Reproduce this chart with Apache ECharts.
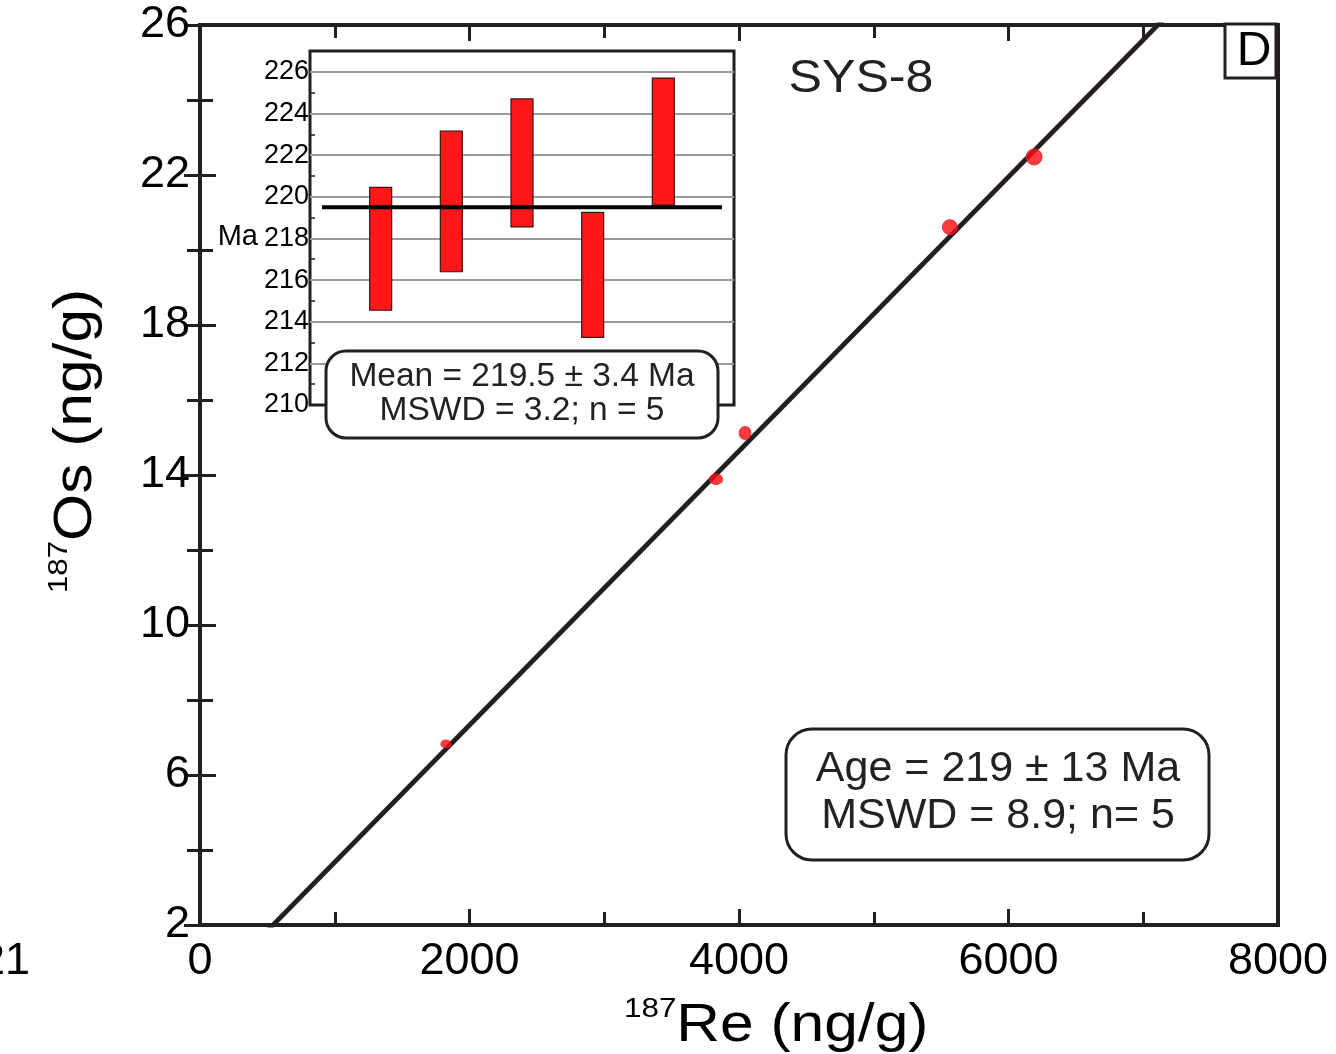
<!DOCTYPE html>
<html><head><meta charset="utf-8">
<script src="https://cdn.jsdelivr.net/npm/echarts@6/dist/echarts.min.js"></script>
<style>html,body{margin:0;padding:0;background:#fff}#c{width:1336px;height:1054px}</style>
</head><body><div id="c"></div>
<script>
// ---- main isochron data (187Re vs 187Os, ng/g) ----
const reValues = [1825, 3830, 4045, 5565, 6190];
const osValues = [6.83, 13.89, 15.12, 20.61, 22.48];
// isochron regression (Age = 219 Ma)
const isochronSlope = 0.003655;
const isochronIntercept = 0.02;
// ---- inset: model ages (Ma) ----
const analysisIndex = [1, 2, 3, 4, 5];
const ageLow  = [214.55, 216.40, 218.55, 213.25, 219.60];
const ageHigh = [220.45, 223.15, 224.70, 219.25, 225.70];
const meanAge = 219.5;
// text
const sampleName = 'SYS-8';
const panelLetter = 'D';
const meanText = ['Mean = 219.5 ± 3.4 Ma', 'MSWD = 3.2; n = 5'];
const ageText = ['Age = 219 ± 13 Ma', 'MSWD = 8.9; n= 5'];

const FONT = '"Liberation Sans", Arial, Helvetica, sans-serif';
const INK = '#231f20';
const chart = echarts.init(document.getElementById('c'));

const mainTick = {show: true, inside: true, length: 16, lineStyle: {color: INK, width: 3}};
const mainMinor = {show: true, splitNumber: 2, length: 13, lineStyle: {color: INK, width: 3}};
const mainLine = {show: true, lineStyle: {color: INK, width: 4}};
const bigLabel = {fontSize: 45, fontFamily: FONT, color: '#000', formatter: v => String(v)};

const option = {
  animation: false,
  backgroundColor: '#fff',
  grid: [
    {left: 200, right: 58, top: 25, bottom: 129, show: true, borderColor: INK, borderWidth: 4, backgroundColor: 'transparent'},
    {left: 310, right: 602, top: 51, bottom: 649, show: true, borderColor: INK, borderWidth: 3, backgroundColor: '#fff'}
  ],
  xAxis: [
    {gridIndex: 0, type: 'value', min: 0, max: 8000, interval: 2000, position: 'bottom',
      axisLine: mainLine, axisTick: mainTick, minorTick: mainMinor,
      axisLabel: Object.assign({margin: 14}, bigLabel), splitLine: {show: false}},
    {gridIndex: 0, type: 'value', min: 0, max: 8000, interval: 2000, position: 'top',
      axisLine: mainLine, axisTick: mainTick, minorTick: mainMinor,
      axisLabel: {show: false}, splitLine: {show: false}},
    {gridIndex: 1, type: 'value', min: 0, max: 6,
      axisLine: {show: false}, axisTick: {show: false}, axisLabel: {show: false}, splitLine: {show: false}}
  ],
  yAxis: [
    {gridIndex: 0, type: 'value', min: 2, max: 26, interval: 4, position: 'left',
      axisLine: mainLine, axisTick: mainTick, minorTick: mainMinor,
      axisLabel: Object.assign({margin: 10}, bigLabel), splitLine: {show: false}},
    {gridIndex: 0, type: 'value', min: 2, max: 26, interval: 4, position: 'right',
      axisLine: mainLine, axisTick: mainTick, minorTick: mainMinor,
      axisLabel: {show: false}, splitLine: {show: false}},
    {gridIndex: 1, type: 'value', min: 210, max: 227, interval: 2, position: 'left',
      axisLine: {show: false}, axisTick: {show: false, inside: true},
      minorTick: {show: true, splitNumber: 2, length: 5, lineStyle: {color: INK, width: 1.5}},
      axisLabel: {fontSize: 27, fontFamily: FONT, color: '#000', margin: 1, showMaxLabel: false},
      splitLine: {show: true, showMinLine: false, showMaxLine: false, lineStyle: {color: '#9a9a9a', width: 2}}}
  ],
  series: [
    {type: 'line', xAxisIndex: 0, yAxisIndex: 0, clip: true, symbol: 'none', silent: true,
      data: [[0, isochronIntercept], [8000, isochronIntercept + 8000 * isochronSlope]],
      lineStyle: {color: INK, width: 4.8}, z: 3},
    {type: 'scatter', xAxisIndex: 0, yAxisIndex: 0, z: 4,
      data: reValues.map((x, i) => [x, osValues[i]]),
      symbol: 'circle',
      symbolSize: (v, p) => [[10, 8], [13, 11], [12, 13], [15, 15], [16, 16]][p.dataIndex],
      itemStyle: {color: '#ff0a12', borderColor: '#e8202a', borderWidth: 1}},
    {type: 'custom', xAxisIndex: 2, yAxisIndex: 2, z: 3,
      data: analysisIndex.map((x, i) => [x, ageLow[i], ageHigh[i]]),
      encode: {x: 0, y: [1, 2]},
      renderItem: (params, api) => {
        const top = api.coord([api.value(0), api.value(2)]);
        const bot = api.coord([api.value(0), api.value(1)]);
        const w = 22;
        return {type: 'rect', shape: {x: top[0] - w / 2, y: top[1], width: w, height: bot[1] - top[1]},
          style: {fill: '#ff1818', stroke: '#3a1515', lineWidth: 1.2}};
      }},
    {type: 'line', xAxisIndex: 2, yAxisIndex: 2, symbol: 'none', silent: true, z: 5,
      data: [[0.17, meanAge], [5.83, meanAge]],
      lineStyle: {color: '#000', width: 4}}
  ],
  graphic: [
    {type: 'text', x: 861, y: 79, scaleX: 1.09, z: 10, style: {text: sampleName, font: '46px ' + FONT, fill: '#222', textAlign: 'center', textVerticalAlign: 'middle'}},
    {type: 'rect', z: 10, shape: {x: 1225, y: 24, width: 51, height: 54}, style: {fill: '#fff', stroke: INK, lineWidth: 3}},
    {type: 'text', x: 1254, y: 52, z: 11, style: {text: panelLetter, font: '48px ' + FONT, fill: '#000', textAlign: 'center', textVerticalAlign: 'middle'}},
    {type: 'text', x: 258, y: 237, z: 10, style: {text: 'Ma', font: '29px ' + FONT, fill: '#000', textAlign: 'right', textVerticalAlign: 'middle'}},
    {type: 'rect', z: 10, shape: {x: 326, y: 351, width: 392, height: 87, r: 20}, style: {fill: '#fff', stroke: INK, lineWidth: 3}},
    {type: 'text', x: 522, y: 377, z: 11, style: {text: meanText[0], font: '33.5px ' + FONT, fill: '#222', textAlign: 'center', textVerticalAlign: 'middle'}},
    {type: 'text', x: 522, y: 411, z: 11, style: {text: meanText[1], font: '33.5px ' + FONT, fill: '#222', textAlign: 'center', textVerticalAlign: 'middle'}},
    {type: 'rect', z: 10, shape: {x: 786, y: 729, width: 423, height: 131, r: 26}, style: {fill: '#fff', stroke: INK, lineWidth: 3}},
    {type: 'text', x: 998, y: 769, z: 11, style: {text: ageText[0], font: '43px ' + FONT, fill: '#222', textAlign: 'center', textVerticalAlign: 'middle'}},
    {type: 'text', x: 998, y: 816, z: 11, style: {text: ageText[1], font: '43px ' + FONT, fill: '#222', textAlign: 'center', textVerticalAlign: 'middle'}},
    {type: 'text', x: 30, y: 962, z: 10, style: {text: '21', font: '45px ' + FONT, fill: '#000', textAlign: 'right', textVerticalAlign: 'middle'}},
    {type: 'text', x: 624, y: 995, scaleX: 1.12, z: 10, style: {
      text: '{s|187}{m|Re (ng/g)}', textAlign: 'left', textVerticalAlign: 'top',
      rich: {s: {fontSize: 28, fontFamily: FONT, fill: '#000', lineHeight: 30, verticalAlign: 'top'},
             m: {fontSize: 54, fontFamily: FONT, fill: '#000', lineHeight: 62}}}},
    {type: 'text', x: 76, y: 441, rotation: Math.PI / 2, scaleX: 1.12, z: 10, style: {
      text: '{s|187}{m|Os (ng/g)}', textAlign: 'center', textVerticalAlign: 'middle',
      rich: {s: {fontSize: 28, fontFamily: FONT, fill: '#000', lineHeight: 30, verticalAlign: 'top'},
             m: {fontSize: 54, fontFamily: FONT, fill: '#000', lineHeight: 62}}}}
  ]
};
chart.setOption(option);
</script>
</body></html>
